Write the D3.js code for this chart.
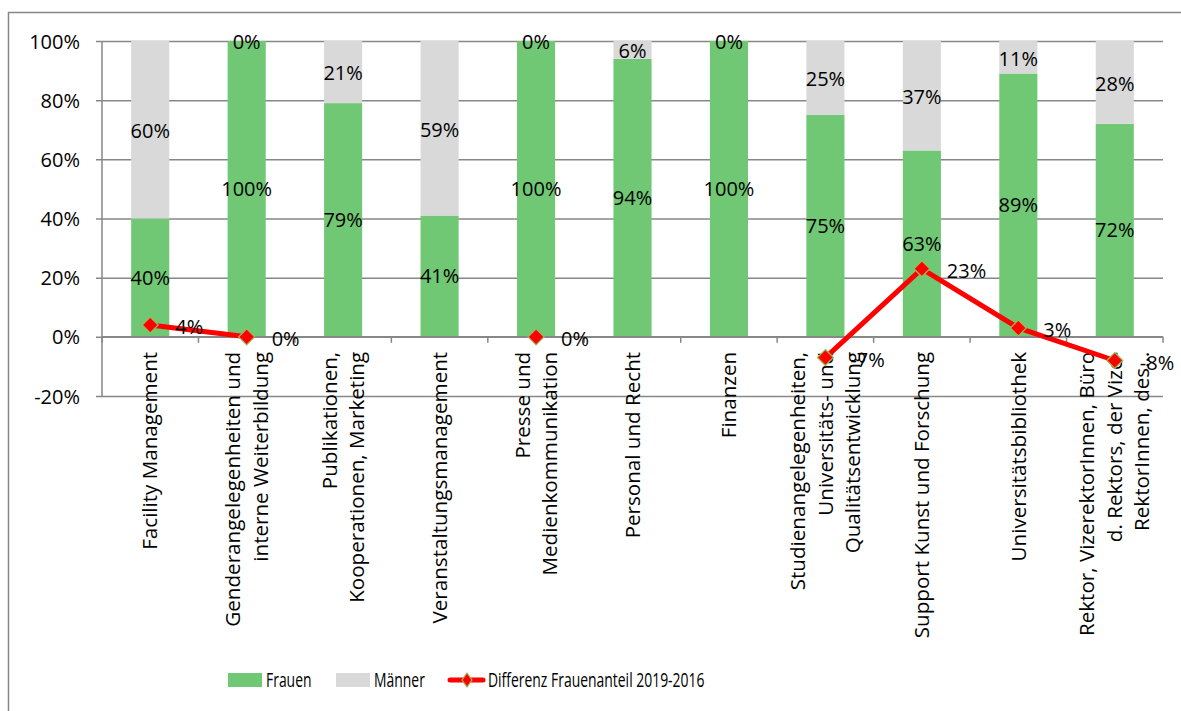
<!DOCTYPE html>
<meta charset="utf-8">
<script src="https://d3js.org/d3.v7.min.js"></script>
<style>
    body { margin: 0; background: #fff; }
    text { font-family: "Open Sans", sans-serif; fill: #000; }
</style>
<div id="chart"></div>
<script>

    // data
    var categories = [
        ["Facility Management"],
        ["Genderangelegenheiten und", "interne Weiterbildung"],
        ["Publikationen,", "Kooperationen, Marketing"],
        ["Veranstaltungsmanagement"],
        ["Presse und", "Medienkommunikation"],
        ["Personal und Recht"],
        ["Finanzen"],
        ["Studienangelegenheiten,", "Universitäts- und", "Qualitätsentwicklung"],
        ["Support Kunst und Forschung"],
        ["Universitätsbibliothek"],
        ["Rektor, VizerektorInnen, Büro", "d. Rektors, der Vize-", "RektorInnen, des…"]
    ];
    var frauen = [40, 100, 79, 41, 100, 94, 100, 75, 63, 89, 72];
    var maenner = [60, 0, 21, 59, 0, 6, 0, 25, 37, 11, 28];
    var differenz = [4, 0, null, null, 0, null, null, -7, 23, 3, -8];
    var yTicks = [-20, 0, 20, 40, 60, 80, 100];
    var seriesNames = ["Frauen", "Männer", "Differenz Frauenanteil 2019-2016"];

    var W = 1181, H = 711;
    var margin = { top: 41, right: 18, bottom: 315, left: 102 };
    var width = W - margin.left - margin.right,
        height = H - margin.top - margin.bottom;

    var green = "#71c874", grey = "#d9d9d9", red = "#ff0000", axisCol = "#878787";

    var svg = d3.select("#chart").append("svg")
        .attr("width", W)
        .attr("height", H);

    // outer frame
    svg.append("rect")
        .attr("x", 8.5).attr("y", 12.5)
        .attr("width", W + 20).attr("height", H + 20)
        .attr("fill", "none")
        .attr("stroke", axisCol)
        .attr("stroke-width", 1.5);

    var g = svg.append("g")
        .attr("transform", "translate(" + margin.left + "," + margin.top + ")");

    var x = d3.scaleBand()
        .domain(d3.range(categories.length))
        .range([0, width])
        .padding(0);

    var y = d3.scaleLinear()
        .domain([-20, 100])
        .range([height, 0]);

    // gridlines + y axis
    g.append("g")
        .call(d3.axisLeft(y).tickValues(yTicks).tickSize(-width).tickFormat(function (d) { return d + "%"; }))
        .call(function (a) {
            a.select(".domain").remove();
            a.selectAll("line").attr("stroke", axisCol).attr("stroke-width", 1.5).attr("x1", -6);
            a.selectAll("text").attr("x", -22).attr("font-size", 20).attr("dy", "0.35em");
        });
    g.append("line")
        .attr("x1", 0).attr("x2", 0).attr("y1", 0).attr("y2", height)
        .attr("stroke", axisCol).attr("stroke-width", 1.5);

    // category axis at 0
    var boundaries = d3.range(categories.length + 1).map(function (i) { return i * x.bandwidth(); });
    g.selectAll(".cattick")
        .data(boundaries)
        .enter().append("line")
        .attr("x1", function (d) { return d; })
        .attr("x2", function (d) { return d; })
        .attr("y1", y(0))
        .attr("y2", y(0) + 6)
        .attr("stroke", axisCol).attr("stroke-width", 1.5);

    // stacked bars
    var barW = x.bandwidth() * 0.395;
    var bx = function (i) { return x(i) + (x.bandwidth() - barW) / 2; };

    g.selectAll(".bar-f")
        .data(frauen)
        .enter().append("rect")
        .attr("x", function (d, i) { return bx(i); })
        .attr("y", function (d) { return y(d); })
        .attr("width", barW)
        .attr("height", function (d) { return y(0) - y(d); })
        .attr("fill", green);

    g.selectAll(".bar-m")
        .data(maenner)
        .enter().append("rect")
        .attr("x", function (d, i) { return bx(i); })
        .attr("y", function (d, i) { return y(frauen[i] + d); })
        .attr("width", barW)
        .attr("height", function (d, i) { return y(frauen[i]) - y(frauen[i] + d); })
        .attr("fill", grey);

    // bar labels
    g.selectAll(".lab-f")
        .data(frauen)
        .enter().append("text")
        .attr("x", function (d, i) { return x(i) + x.bandwidth() / 2; })
        .attr("y", function (d) { return y(d / 2); })
        .attr("dy", "0.35em")
        .attr("text-anchor", "middle")
        .attr("font-size", 20)
        .text(function (d) { return d + "%"; });

    g.selectAll(".lab-m")
        .data(maenner)
        .enter().append("text")
        .attr("x", function (d, i) { return x(i) + x.bandwidth() / 2; })
        .attr("y", function (d, i) { return y(frauen[i] + d / 2); })
        .attr("dy", "0.42em")
        .attr("text-anchor", "middle")
        .attr("font-size", 20)
        .text(function (d) { return d + "%"; });

    // horizontal axis line at 0
    g.append("line")
        .attr("x1", 0).attr("x2", width)
        .attr("y1", y(0)).attr("y2", y(0))
        .attr("stroke", axisCol).attr("stroke-width", 1.5);

    // category labels, rotated
    var catG = g.selectAll(".cat")
        .data(categories)
        .enter().append("g")
        .attr("transform", function (d, i) {
            return "translate(" + (x(i) + x.bandwidth() / 2) + "," + (y(0) + 15) + ") rotate(-90)";
        });
    catG.each(function (lines) {
        var t = d3.select(this).append("text")
            .attr("text-anchor", "end")
            .attr("font-size", 20.6);
        lines.forEach(function (l, j) {
            t.append("tspan")
                .attr("x", 0)
                .attr("y", (j - (lines.length - 1) / 2) * 27.5)
                .attr("dy", "0.35em")
                .text(l);
        });
    });

    // Differenz line
    var pts = differenz.map(function (v, i) { return { i: i, v: v }; });
    var line = d3.line()
        .defined(function (d) { return d.v !== null; })
        .x(function (d) { return x(d.i) + x.bandwidth() / 2; })
        .y(function (d) { return y(d.v); });

    g.append("path")
        .datum(pts)
        .attr("d", line)
        .attr("fill", "none")
        .attr("stroke", red)
        .attr("stroke-width", 5);

    var diamond = "M0,-8L8,0L0,8L-8,0Z";
    var defined = pts.filter(function (d) { return d.v !== null; });

    g.selectAll(".mark")
        .data(defined)
        .enter().append("path")
        .attr("d", diamond)
        .attr("transform", function (d) { return "translate(" + (x(d.i) + x.bandwidth() / 2) + "," + y(d.v) + ")"; })
        .attr("fill", red)
        .attr("stroke", "#9bbb59")
        .attr("stroke-width", 1.2);

    g.selectAll(".lab-d")
        .data(defined)
        .enter().append("text")
        .attr("x", function (d) { return x(d.i) + x.bandwidth() / 2 + 25; })
        .attr("y", function (d) { return y(d.v); })
        .attr("dy", "0.45em")
        .attr("font-size", 20)
        .text(function (d) { return d.v + "%"; });

    // legend
    var legend = svg.append("g");
    var lgY = 680;
    var items = [
        { x: 228, type: "rect", color: green },
        { x: 336, type: "rect", color: grey },
        { x: 448, type: "line", color: red }
    ];
    items.forEach(function (it, k) {
        if (it.type === "rect") {
            legend.append("rect")
                .attr("x", it.x).attr("y", lgY - 7)
                .attr("width", 34).attr("height", 14)
                .attr("fill", it.color);
        } else {
            legend.append("line")
                .attr("x1", it.x + 2).attr("x2", it.x + 35)
                .attr("y1", lgY).attr("y2", lgY)
                .attr("stroke", red).attr("stroke-width", 5)
                .attr("stroke-linecap", "round");
            legend.append("path")
                .attr("d", "M0,-7L5,0L0,7L-5,0Z")
                .attr("transform", "translate(" + (it.x + 19) + "," + lgY + ")")
                .attr("fill", red)
                .attr("stroke", "#9bbb59")
                .attr("stroke-width", 1.2);
        }
        legend.append("text")
            .attr("transform", "translate(" + (it.x + (it.type === "rect" ? 38 : 40)) + "," + lgY + ") scale(0.68,1)")
            .attr("dy", "0.36em")
            .attr("font-size", 20.5)
            .text(seriesNames[k]);
    });

</script>
